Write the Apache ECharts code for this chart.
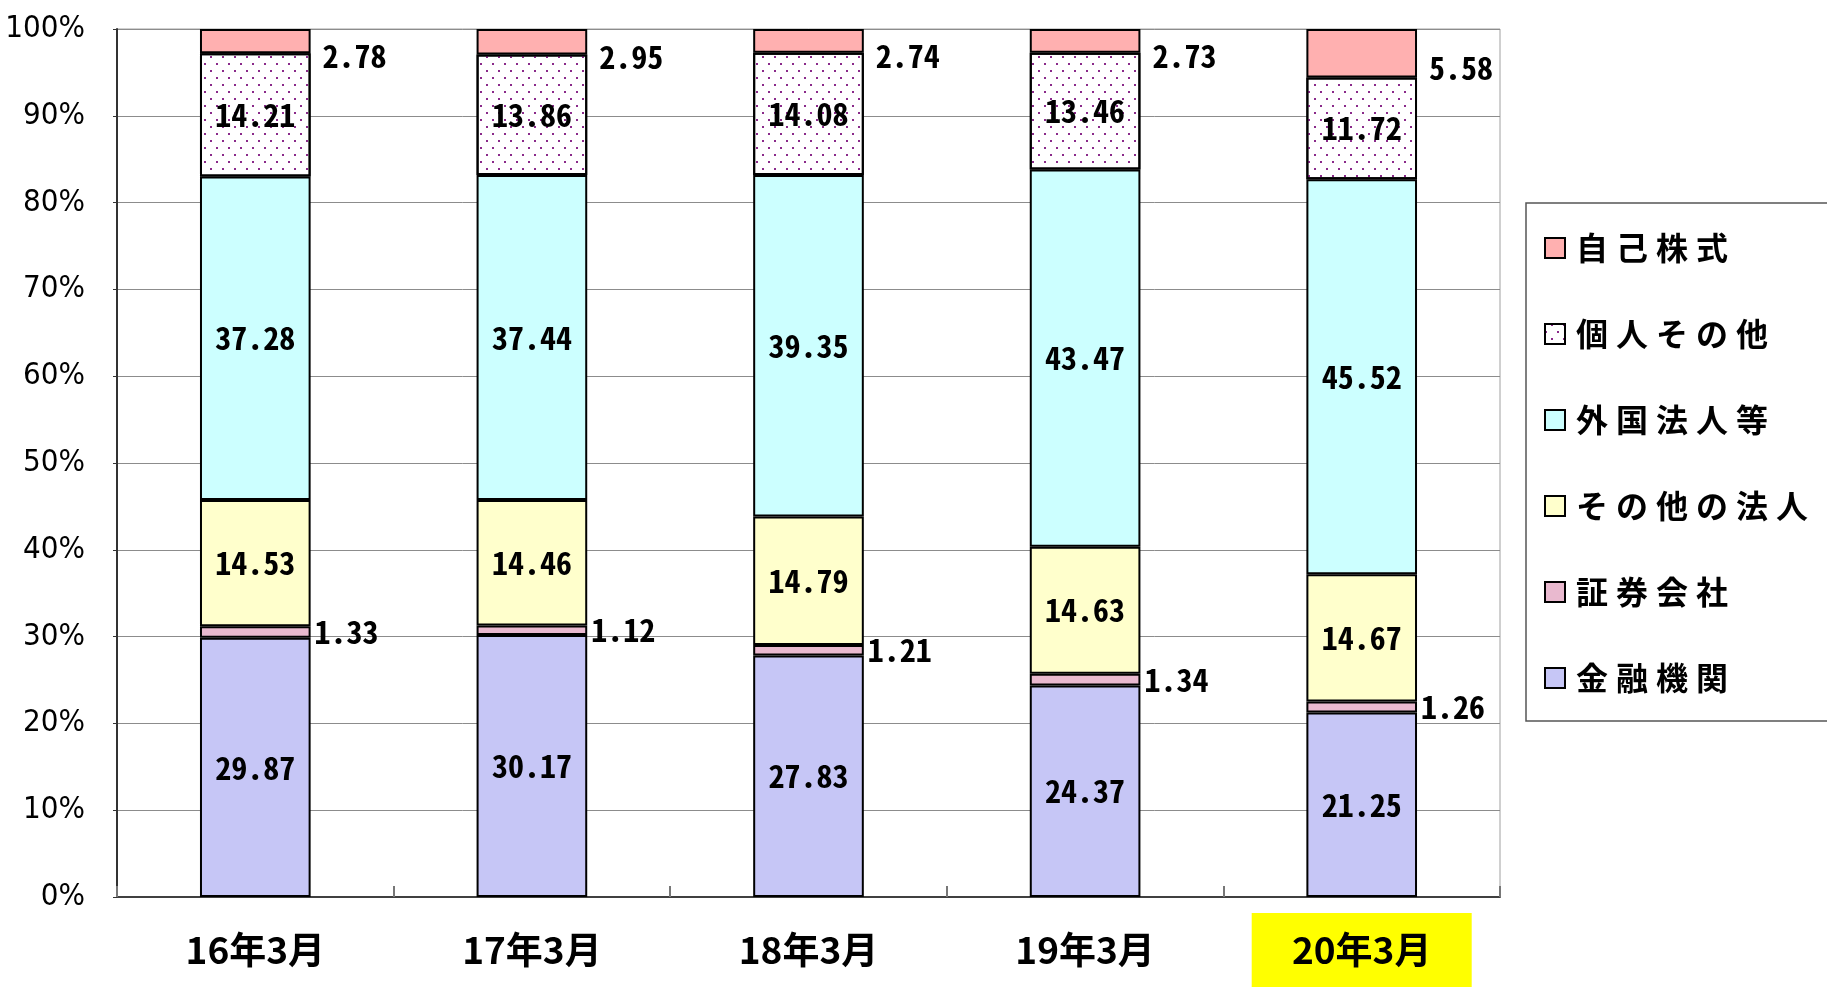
<!DOCTYPE html>
<html>
<head>
<meta charset="utf-8">
<title>所有者別持株比率</title>
<script src="https://cdn.jsdelivr.net/npm/echarts@6/dist/echarts.min.js"></script>
<style>
  html, body { margin: 0; padding: 0; background: #fff; }
  #chart { width: 1827px; height: 987px; }
</style>
</head>
<body>
<div id="chart"></div>
<script>
// 年度
const categories = ['16年3月', '17年3月', '18年3月', '19年3月', '20年3月'];
// 所有者別の比率（%）
const kinyu = [29.87, 30.17, 27.83, 24.37, 21.25];     // 金融機関
const shoken = [1.33, 1.12, 1.21, 1.34, 1.26];         // 証券会社
const sonotaHojin = [14.53, 14.46, 14.79, 14.63, 14.67]; // その他の法人
const gaikoku = [37.28, 37.44, 39.35, 43.47, 45.52];   // 外国法人等
const kojin = [14.21, 13.86, 14.08, 13.46, 11.72];     // 個人その他
const jikokabu = [2.78, 2.95, 2.74, 2.73, 5.58];       // 自己株式
const yTicks = [0, 10, 20, 30, 40, 50, 60, 70, 80, 90, 100];

const labelFont = "'Noto Sans Mono CJK JP', 'DejaVu Sans Mono', monospace";
const cjkFont = "'Noto Sans CJK JP', sans-serif";

function barSeries(name, data, color, label) {
  return {
    name: name,
    type: 'bar',
    stack: 'total',
    barWidth: '40%',
    data: data,
    itemStyle: {
      color: color,
      borderColor: '#000',
      borderWidth: 2,
    },
    label: Object.assign({
      show: true,
      position: 'inside',
      color: '#000',
      fontFamily: labelFont,
      fontWeight: 'bold',
      fontSize: 32,
    }, label),
  };
}

const chart = echarts.init(document.getElementById('chart'));
const option = {
  animation: false,
  grid: {
    left: 117,
    right: 327,
    top: 29,
    bottom: 90,
    outerBoundsMode: 'none',
    show: true,
    borderColor: '#a0a0a0',
    borderWidth: 1,
  },
  legend: {
    orient: 'vertical',
    left: 1526,
    top: 203,
    padding: [27, 400, 25, 18],
    icon: 'rect',
    itemWidth: 20,
    itemHeight: 20,
    itemGap: 50,
    borderColor: '#555',
    borderWidth: 1.5,
    data: ['自己株式', '個人その他', '外国法人等', 'その他の法人', '証券会社', '金融機関'],
    formatter: function(name) {
      return name.split('').join('\u2005');
    },
    textStyle: {
      color: '#000',
      fontFamily: cjkFont,
      fontWeight: 'bold',
      fontSize: 32,
      lineHeight: 36,
      padding: [0, 0, 0, 6],
    },
  },
  xAxis: {
    type: 'category',
    data: categories,
    axisLine: { lineStyle: { color: '#404040', width: 2 } },
    axisTick: { show: true, inside: true, length: 11, lineStyle: { color: '#777', width: 2 } },
    axisLabel: {
      margin: 16,
      formatter: function(value, index) {
        return index === categories.length - 1 ? '{hl|' + value + '}' : '{n|' + value + '}';
      },
      rich: {
        n: {
          fontFamily: cjkFont,
          fontWeight: 'bold',
          fontSize: 37,
          color: '#000',
          height: 74,
          lineHeight: 74,
        },
        hl: {
          fontFamily: cjkFont,
          fontWeight: 'bold',
          fontSize: 37,
          color: '#000',
          backgroundColor: '#ffff00',
          width: 220,
          height: 74,
          lineHeight: 74,
          align: 'center',
        },
      },
    },
  },
  yAxis: {
    type: 'value',
    min: yTicks[0],
    max: yTicks[yTicks.length - 1],
    interval: 10,
    axisLine: { show: true, lineStyle: { color: '#333', width: 2 } },
    axisTick: { show: true, length: 4, lineStyle: { color: '#333' } },
    splitLine: { lineStyle: { color: '#8c8c8c', width: 1 } },
    axisLabel: {
      margin: 32,
      formatter: '{value}%',
      color: '#000',
      fontFamily: "'Liberation Sans Narrow', 'DejaVu Sans Condensed', sans-serif",
      fontSize: 31,
    },
  },
  series: [
    barSeries('金融機関', kinyu, '#c6c6f6'),
    barSeries('証券会社', shoken, '#e9b9cf', { position: 'right', distance: 4 }),
    barSeries('その他の法人', sonotaHojin, '#ffffcc'),
    barSeries('外国法人等', gaikoku, '#ccffff'),
    barSeries('個人その他', kojin, '#ffffff'),
    barSeries('自己株式', jikokabu, '#ffb0b0', { position: 'right', distance: 12, offset: [0, 15] }),
  ],
};
// 個人その他は白地に紫の点
option.series[4].itemStyle.decal = {
  symbol: 'rect',
  symbolSize: 1,
  color: '#8a2a8a',
  dashArrayX: [[2, 10], [0, 6, 2, 4]],
  dashArrayY: [2, 5],
  rotation: 0,
};
chart.setOption(option);
</script>
</body>
</html>
